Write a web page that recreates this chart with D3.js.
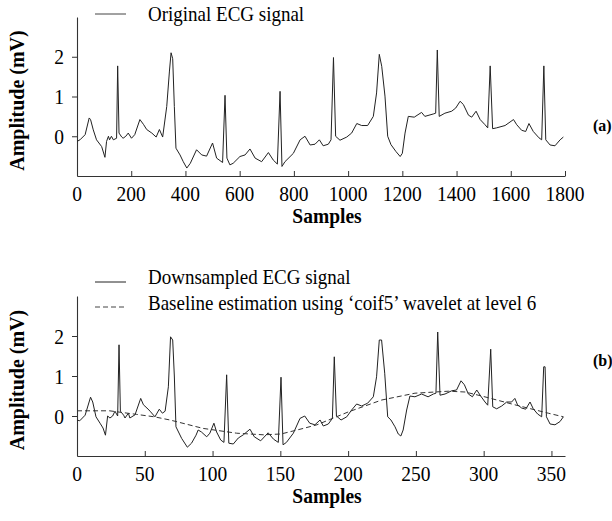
<!DOCTYPE html>
<html>
<head>
<meta charset="utf-8">
<script src="https://cdn.jsdelivr.net/npm/d3@7/dist/d3.min.js"></script>
<style>
  html, body { margin: 0; padding: 0; background: #fff; }
  svg { display: block; }
</style>
</head>
<body>
<svg id="chart" width="612" height="521"></svg>
<script>
// ---------------- DATA ----------------
// Panel (a): original ECG signal (sample index, amplitude mV)
const origSamples = [0,11,30,45,50,60,72,91,103,109,116,120,127,134,146,150,155,165,170,180,189,201,213,232,245,257,276,292,304,316,331,341,347,353,359,365,380,392,405,418,441,460,478,500,515,537,546,553,564,576,601,620,638,657,681,706,724,739,749,756,767,798,823,841,860,878,894,908,927,937,946,954,970,995,1013,1032,1050,1072,1093,1105,1115,1124,1136,1146,1158,1176,1192,1200,1210,1222,1244,1271,1283,1314,1323,1329,1336,1357,1382,1397,1413,1425,1444,1456,1472,1487,1505,1515,1524,1533,1547,1579,1610,1622,1640,1655,1667,1683,1704,1714,1722,1729,1745,1763,1782,1794];
const origValues  = [-0.13,-0.09,0.04,0.46,0.42,0.16,-0.09,-0.26,-0.53,-0.13,0.0,-0.09,0.0,-0.09,-0.05,1.77,0.08,-0.02,-0.05,0.0,0.08,-0.05,0.04,0.42,0.3,0.17,0.08,-0.02,0.17,-0.02,0.75,1.64,2.1,1.95,0.75,-0.3,-0.47,-0.64,-0.8,-0.68,-0.34,-0.47,-0.5,-0.17,-0.55,-0.66,1.03,-0.55,-0.72,-0.68,-0.51,-0.47,-0.32,-0.55,-0.64,-0.41,-0.6,-0.7,1.13,-0.76,-0.64,-0.43,-0.09,0.0,-0.22,-0.2,-0.09,-0.24,-0.2,-0.09,1.98,0.0,-0.1,-0.02,0.08,0.32,0.27,0.27,0.5,1.09,2.06,1.76,1.01,0.0,-0.21,-0.38,-0.51,-0.43,0.08,0.5,0.48,0.6,0.5,0.56,0.58,2.17,0.5,0.58,0.63,0.71,0.88,0.8,0.53,0.48,0.63,0.42,0.29,0.21,1.77,0.19,0.21,0.27,0.42,0.29,0.15,0.12,0.32,0.12,-0.04,-0.09,1.77,-0.09,-0.22,-0.24,-0.09,-0.02];

// Panel (b): downsampled ECG signal
const downSamples = [0,2,6,10,11.6,14,17,19.2,21,22.6,24.3,26.3,28,30,31,32,34.4,35.4,37.9,39,42.8,47,49,51.6,53.9,57.5,60.7,63,65,67.4,69,70.6,71.8,73,77.2,81.4,84.5,87.8,89.4,91.8,95.7,98,101,103,106,108.4,110.4,112,115.3,119,122.7,127.6,130.8,135.5,141,145,148.5,150.5,152,154.5,159.6,164.5,168,171.7,175.5,179.3,181.7,185.4,188.4,189.8,191.4,194.8,199,202.6,206.3,210,214.4,218.6,221,223,224.7,227,229.2,231.6,234.6,237,238.9,240.6,243.2,245.6,249.3,254.2,259,262.9,264.8,266.1,267.8,271.5,276.4,280,283.3,285.8,288.7,291.7,294.9,297.8,301,303,305.2,306.7,309.6,313.3,317,320.6,323,325,328,331,334.2,336.6,339.8,342.8,344.3,345.3,346.3,349,352.6,356.3,358.8];
const downValues  = [-0.1,-0.12,0.02,0.47,0.35,-0.02,-0.18,-0.3,-0.48,0,-0.05,0,0.12,0,1.78,0.12,0.02,-0.05,0.07,-0.05,0.03,0.44,0.28,0.2,0.12,-0.02,0.17,0.07,0.12,0.73,1.98,1.9,1.0,-0.27,-0.56,-0.78,-0.68,-0.48,-0.35,-0.4,-0.52,-0.43,-0.18,-0.4,-0.6,-0.66,1.03,-0.68,-0.7,-0.55,-0.47,-0.33,-0.52,-0.62,-0.42,-0.58,-0.66,0.97,-0.72,-0.66,-0.43,-0.06,0,-0.18,-0.22,-0.1,-0.25,-0.2,-0.06,1.48,0,-0.1,-0.02,0.15,0.3,0.25,0.32,0.48,0.98,1.9,1.9,1.07,-0.02,-0.1,-0.27,-0.45,-0.5,-0.35,0.15,0.5,0.48,0.55,0.48,0.55,0.57,2.1,0.52,0.55,0.63,0.65,0.88,0.78,0.55,0.48,0.65,0.5,0.35,0.27,1.67,0.23,0.18,0.25,0.35,0.35,0.44,0.28,0.2,0.17,0.35,0.18,0.05,-0.02,1.23,1.23,-0.02,-0.2,-0.22,-0.14,-0.02];

// Panel (b): baseline estimation (coif5, level 6)
const baseSamples = [0,24,44,57,68.6,93,117.8,137.5,150.5,167,177,200,224.8,249.3,274,286.3,298.5,323,347.7,358.8];
const baseValues  = [0.13,0.13,0.04,-0.02,-0.1,-0.31,-0.43,-0.47,-0.45,-0.31,-0.22,0.1,0.4,0.57,0.62,0.6,0.5,0.28,0.07,-0.02];

// Axis ticks / labels
const xTicksA = [0,200,400,600,800,1000,1200,1400,1600,1800];
const xTicksB = [0,50,100,150,200,250,300,350];
const yTicks  = [0,1,2];
const xLabel = "Samples";
const yLabel = "Amplitude (mV)";
const legendA = ["Original ECG signal"];
const legendB = ["Downsampled ECG signal", "Baseline estimation using \u2018coif5\u2019 wavelet at level 6"];
const panelTags = ["(a)", "(b)"];

// ---------------- DRAW ----------------
const FONT = "'Liberation Serif', 'Times New Roman', Times, 'DejaVu Serif', serif";
const svg = d3.select("#chart").attr("font-family", FONT);
const AX = "#333";
const LINE = "#222";

function stext(g, x, y, str, size, opts = {}) {
  const sy = opts.sy || 1.1;
  const t = g.append("text")
    .attr("transform", `translate(${x},${y})` + (opts.rotate ? ` rotate(${opts.rotate})` : "") + ` scale(1,${sy})`)
    .attr("text-anchor", opts.anchor || "start")
    .attr("font-family", FONT)
    .attr("font-size", size)
    .attr("font-weight", opts.bold ? "bold" : "normal")
    .attr("fill", "#000")
    .text(str);
  return t;
}

function panel(cfg) {
  const g = svg.append("g");
  const x = d3.scaleLinear().domain(cfg.xDomain).range([77, 565]);
  const y = d3.scaleLinear().domain([-1, 3]).range([cfg.bottom, cfg.top]);

  // axes
  const xa = g.append("g").attr("transform", `translate(0,${cfg.bottom})`)
    .call(d3.axisBottom(x).tickValues(cfg.xTicks).tickSizeInner(-5).tickSizeOuter(0).tickFormat(""));
  const ya = g.append("g").attr("transform", `translate(77,0)`)
    .call(d3.axisLeft(y).tickValues(yTicks).tickSizeInner(5).tickSizeOuter(0).tickFormat(""));
  [xa, ya].forEach(a => {
    a.select(".domain").attr("stroke", AX).attr("stroke-width", 1.1);
    a.selectAll(".tick line").attr("stroke", AX).attr("stroke-width", 1);
  });

  // tick labels
  cfg.xTicks.forEach(t => stext(g, x(t), cfg.bottom + 25, String(t), 19.5, {anchor: "middle", sy: 1.12}));
  yTicks.forEach(t => stext(g, 64, y(t) + 7.5, String(t), 19.5, {anchor: "end", sy: 1.12}));

  // axis titles
  stext(g, 327, cfg.bottom + 47, xLabel, 19.5, {anchor: "middle", bold: true, sy: 1.12});
  stext(g, 24, (cfg.top + cfg.bottom) / 2 + 4, yLabel, 20, {anchor: "middle", bold: true, rotate: -90, sy: 1.08});

  // panel tag
  stext(g, 593, cfg.tagY, cfg.tag, 16, {bold: true, sy: 1.05});

  // series
  const line = d3.line().x(d => x(d[0])).y(d => y(d[1]));
  cfg.series.forEach(s => {
    g.append("path")
      .datum(d3.zip(s.xs, s.ys))
      .attr("fill", "none")
      .attr("stroke", s.color)
      .attr("stroke-width", s.width)
      .attr("stroke-dasharray", s.dash || null)
      .attr("stroke-linejoin", "round")
      .attr("d", line);
  });

  // legend
  cfg.legend.forEach((L, i) => {
    g.append("line").attr("x1", 95).attr("x2", 126)
      .attr("y1", L.ly).attr("y2", L.ly)
      .attr("stroke", L.color).attr("stroke-width", 1)
      .attr("stroke-dasharray", L.dash || null);
    stext(g, 148, L.ty, L.text, 19, {sy: 1.08});
  });
}

panel({
  xDomain: [0, 1800], xTicks: xTicksA, top: 17, bottom: 176, tag: panelTags[0], tagY: 131,
  series: [{xs: origSamples, ys: origValues, color: LINE, width: 1}],
  legend: [{ly: 14, ty: 21, text: legendA[0], color: "#444"}]
});

panel({
  xDomain: [0, 360], xTicks: xTicksB, top: 296, bottom: 456, tag: panelTags[1], tagY: 366,
  series: [
    {xs: downSamples, ys: downValues, color: LINE, width: 1},
    {xs: baseSamples, ys: baseValues, color: "#333", width: 1, dash: "5,3"}
  ],
  legend: [
    {ly: 282, ty: 284, text: legendB[0], color: "#222"},
    {ly: 307, ty: 310, text: legendB[1], color: "#444", dash: "5,3"}
  ]
});
</script>
</body>
</html>
